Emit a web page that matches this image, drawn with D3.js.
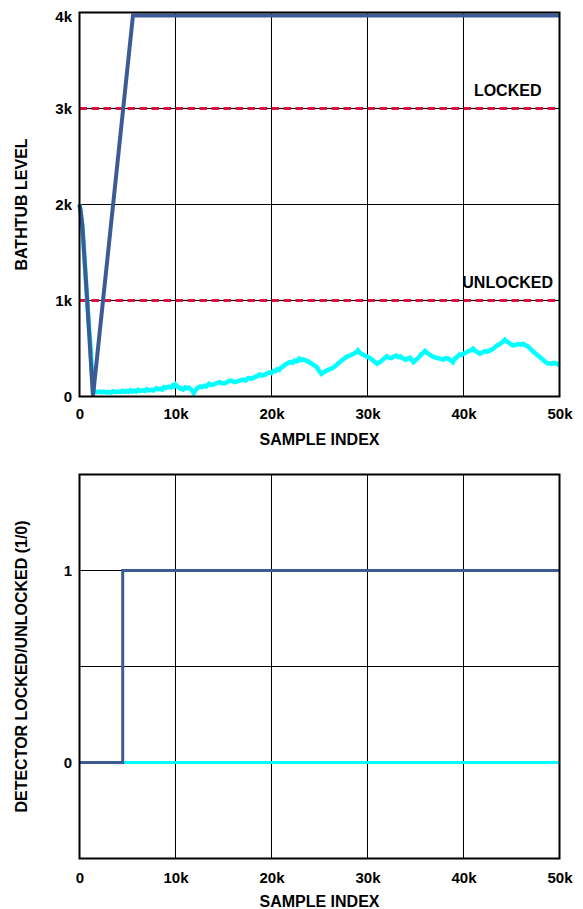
<!DOCTYPE html>
<html>
<head>
<meta charset="utf-8">
<script src="https://cdn.jsdelivr.net/npm/d3@7"></script>
<style>
  body { margin: 0; background: #fff; }
  text { font-family: "Liberation Sans", Arial, sans-serif; font-weight: bold; fill: #000; }
</style>
</head>
<body>
<div id="chart"></div>
<script>
// sample index ticks shared by both panels
const xTicks = [0, 10000, 20000, 30000, 40000, 50000]
const levelTicks = [0, 1000, 2000, 3000, 4000]
const detTicks = [0, 1]
const detGrid = [0, 0.5, 1]
const thresholds = [{name: 'LOCKED', level: 3000}, {name: 'UNLOCKED', level: 1000}]
const labelAt = 44600

// bathtub level traces [sample, level]
const bathBlue = [[0,2000],[100,1950],[300,1780],[800,1000],[1400,0],[5570,3970],[50000,3970]]
const bathCyan = [[0,2000],[300,1780],[800,1000],[1000,700],[1100,600],[1300,250],[1500,60],[1800,45],
  [2100,52],[2300,44],[2500,50],[2800,42],[3000,47],[3300,40],[3500,55],[3800,46],[4000,52],[4300,47],
  [4500,60],[4700,50],[4900,57],[5100,48],[5300,65],[5500,52],[5700,58],[5900,50],[6100,70],[6300,58],
  [6600,64],[6800,57],[7000,76],[7200,64],[7500,70],[7700,63],[8000,86],[8200,74],[8400,80],[8600,72],
  [8800,96],[9000,88],[9300,102],[9500,94],[9700,116],[9850,104],[10000,124],[10150,108],[10300,100],
  [10500,84],[10800,72],[11000,94],[11200,86],[11400,92],[11600,74],[11750,62],[11900,35],[12050,62],
  [12200,82],[12400,96],[12600,104],[12800,98],[13000,112],[13200,104],[13500,132],[13700,120],
  [14000,126],[14300,140],[14600,150],[14900,136],[15200,140],[15500,158],[15800,166],[16100,150],
  [16400,156],[16800,170],[17100,176],[17300,166],[17600,192],[17900,184],[18200,200],[18500,212],
  [18800,230],[19000,218],[19300,226],[19600,244],[19800,252],[20000,244],[20200,266],[20400,262],
  [20600,284],[20800,276],[21000,302],[21200,312],[21400,332],[21700,346],[21900,358],[22200,352],
  [22400,374],[22700,368],[22900,394],[23100,380],[23300,386],[23600,374],[23800,366],[24000,352],
  [24200,342],[24500,322],[24700,308],[25000,262],[25200,236],[25400,250],[25600,262],[25800,274],
  [26000,282],[26200,290],[26400,300],[26700,322],[26900,342],[27100,356],[27400,382],[27600,396],
  [27800,412],[28000,420],[28300,432],[28500,442],[28700,454],[28850,462],[29000,480],[29200,456],
  [29400,442],[29600,432],[29900,418],[30200,404],[30400,390],[30700,364],[31000,340],[31200,352],
  [31500,374],[31700,392],[32000,418],[32200,404],[32500,400],[32700,414],[33000,426],[33200,410],
  [33400,418],[33700,396],[34000,384],[34200,396],[34400,404],[34600,380],[34800,358],[35000,378],
  [35300,404],[35500,424],[35600,442],[35800,456],[36000,474],[36200,452],[36400,442],[36600,426],
  [36800,418],[37000,408],[37300,400],[37600,392],[37900,384],[38100,398],[38400,396],[38700,372],
  [38900,358],[39000,380],[39200,404],[39400,420],[39600,438],[39800,432],[40000,446],[40200,454],
  [40500,472],[40800,482],[41000,498],[41150,480],[41300,470],[41500,458],[41700,446],[42000,462],
  [42200,472],[42500,466],[42700,476],[42900,488],[43100,498],[43300,514],[43500,532],[43800,548],
  [44000,562],[44150,576],[44300,592],[44500,574],[44700,562],[45000,540],[45200,532],[45500,540],
  [45700,546],[46000,540],[46200,550],[46500,532],[46700,522],[47000,494],[47300,462],[47600,440],
  [47800,422],[48100,398],[48300,382],[48500,362],[48700,348],[49000,344],[49200,340],[49400,350],
  [49700,342],[49850,334],[50000,322]]

// detector state traces [sample, locked]
const detBlue = [[0,0],[4500,0],[4500,1],[50000,1]]
const detCyan = [[0,0],[50000,0]]

const blue = '#3c5b96', cyan = '#00ffff', red = '#e0103c'
const width = 480, height = 384

let svg = d3.select('#chart').append('svg')
  .attr('width', 583).attr('height', 909)

let fmtK = d => d === 0 ? '0' : (d / 1000) + 'k'

function drawPanel(top, yDomain, yTicks, yGrid, yFmt, xPad, titleY, yTitle, traces) {
  let g = svg.append('g').attr('transform', 'translate(79.5,' + top + ')')
  let x = d3.scaleLinear().domain([0, 50000]).range([0, width])
  let y = d3.scaleLinear().domain(yDomain).range([height, 0])

  // grid
  g.append('g').selectAll('line').data(xTicks.slice(1, -1)).join('line')
    .attr('x1', d => x(d)).attr('x2', d => x(d))
    .attr('y1', 0).attr('y2', height)
    .attr('stroke', '#000').attr('stroke-width', 1)
  g.append('g').selectAll('line').data(yGrid).join('line')
    .attr('x1', 0).attr('x2', width)
    .attr('y1', d => y(d)).attr('y2', d => y(d))
    .attr('stroke', '#000').attr('stroke-width', 1)

  let line = d3.line().x(d => x(d[0])).y(d => y(d[1]))
  traces(g, x, y, line)

  // frame
  g.append('rect').attr('width', width).attr('height', height)
    .attr('fill', 'none').attr('stroke', '#000').attr('stroke-width', 2)

  let ya = g.append('g').call(d3.axisLeft(y).tickValues(yTicks).tickSize(0).tickPadding(7.5).tickFormat(yFmt))
  ya.select('.domain').remove()
  ya.selectAll('text').style('font-size', '15px')
    .attr('dy', d => d === yDomain[1] ? '0.6em' : '0.32em')

  let xa = g.append('g').attr('transform', 'translate(0,' + height + ')')
    .call(d3.axisBottom(x).tickValues(xTicks).tickSize(0).tickPadding(xPad).tickFormat(fmtK))
  xa.select('.domain').remove()
  xa.selectAll('text').style('font-size', '15px')

  g.append('text').attr('x', width / 2).attr('y', height + titleY)
    .attr('text-anchor', 'middle').style('font-size', '16px').text('SAMPLE INDEX')
  g.append('text').attr('transform', 'translate(-53,' + height / 2 + ') rotate(-90)')
    .attr('text-anchor', 'middle').style('font-size', '16px').text(yTitle)
}

drawPanel(12.5, [0, 4000], levelTicks, [1000, 2000, 3000], fmtK, 12, 48.5, 'BATHTUB LEVEL', function(g, x, y, line) {
  g.append('g').selectAll('line').data(thresholds).join('line')
    .attr('x1', 0).attr('x2', width)
    .attr('y1', d => y(d.level)).attr('y2', d => y(d.level))
    .attr('stroke', red).attr('stroke-width', 3).attr('stroke-dasharray', '7.5,4.5')
  g.append('g').selectAll('text').data(thresholds).join('text')
    .attr('x', x(labelAt)).attr('y', d => y(d.level) - 12.5)
    .attr('text-anchor', 'middle').style('font-size', '16px').text(d => d.name)
  g.append('path').attr('d', line(bathCyan))
    .attr('fill', 'none').attr('stroke', cyan).attr('stroke-width', 4.5)
  g.append('path').attr('d', line(bathBlue))
    .attr('fill', 'none').attr('stroke', blue).attr('stroke-width', 4)
})

drawPanel(474.5, [-0.5, 1.5], detTicks, detGrid, d3.format('d'), 14, 48.5, 'DETECTOR LOCKED/UNLOCKED (1/0)', function(g, x, y, line) {
  g.append('path').attr('d', line(detCyan))
    .attr('fill', 'none').attr('stroke', cyan).attr('stroke-width', 3)
  g.append('path').attr('d', line(detBlue))
    .attr('fill', 'none').attr('stroke', blue).attr('stroke-width', 3)
})
</script>
</body>
</html>
